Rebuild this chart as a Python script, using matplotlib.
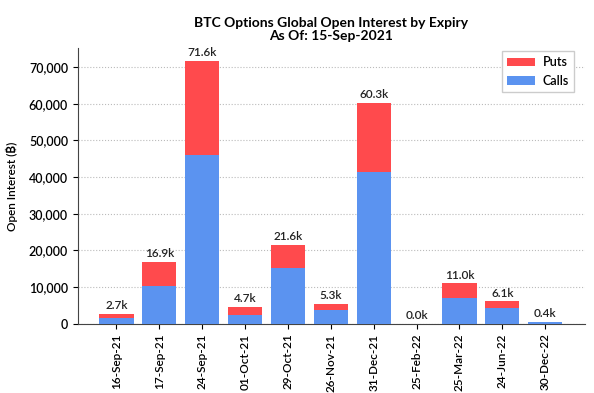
import matplotlib
matplotlib.use("Agg")
import matplotlib.pyplot as plt
import numpy as np

plt.rcParams['font.family'] = ['Lato', 'Inter', 'Noto Sans', 'Roboto', 'Open Sans', 'DejaVu Sans']

expiries = ["16-Sep-21", "17-Sep-21", "24-Sep-21", "01-Oct-21", "29-Oct-21", "26-Nov-21",
            "31-Dec-21", "25-Feb-22", "25-Mar-22", "24-Jun-22", "30-Dec-22"]
calls = [1700, 10200, 46000, 2300, 15200, 3800, 41500, 0, 7000, 4300, 390]
puts = [1000, 6700, 25600, 2400, 6400, 1500, 18800, 20, 4000, 1800, 10]

CALL_COLOR = "#5B93F0"
PUT_COLOR = "#FF4A4D"

fig = plt.figure(figsize=(5.94, 3.93), dpi=100)
ax = fig.add_axes([0.131, 0.176, 0.854, 0.702])

x = np.arange(len(expiries))
totals = np.array(calls) + np.array(puts)
ax.bar(x, puts, bottom=calls, width=0.8, color=PUT_COLOR, label="Puts", zorder=3)
ax.bar(x, calls, width=0.8, color=CALL_COLOR, label="Calls", zorder=3)

for xi, t in zip(x, totals):
    ax.text(xi, t + 800, f"{t/1000:.1f}k", ha="center", va="bottom", fontsize=8.5,
            color="#222222", fontweight="semibold")

ax.set_xticks(x)
ax.set_xticklabels(expiries, rotation=90, fontsize=8.5, fontweight="semibold")
ax.set_ylim(0, 75200)
ax.set_xlim(-0.9, 10.93)
ax.set_yticks(np.arange(0, 70001, 10000))
ax.yaxis.set_major_formatter(matplotlib.ticker.FuncFormatter(lambda v, p: f"{int(v):,}"))
for lbl in ax.get_yticklabels():
    lbl.set_fontweight("semibold")
ax.tick_params(axis="y", labelsize=9)
ax.set_ylabel("Open Interest (₿)", fontsize=8.5, fontweight="semibold", labelpad=8)
ax.grid(axis="y", linestyle=":", color="#bbbbbb", linewidth=0.8, zorder=0)
ax.spines["top"].set_visible(False)
ax.spines["right"].set_visible(False)
ax.spines["left"].set_color("#444444")
ax.spines["bottom"].set_color("#444444")

ax.set_title("BTC Options Global Open Interest by Expiry\nAs Of: 15-Sep-2021",
             fontsize=10, fontweight="bold", linespacing=1.1, pad=6)
leg = ax.legend(loc="upper right", fontsize=9, fancybox=False, framealpha=1, edgecolor="#cccccc",
                bbox_to_anchor=(0.99, 1.01), handlelength=2.2, handletextpad=0.6, borderpad=0.4)
for t in leg.get_texts():
    t.set_fontweight("semibold")

fig.savefig("out.png", facecolor="white")
